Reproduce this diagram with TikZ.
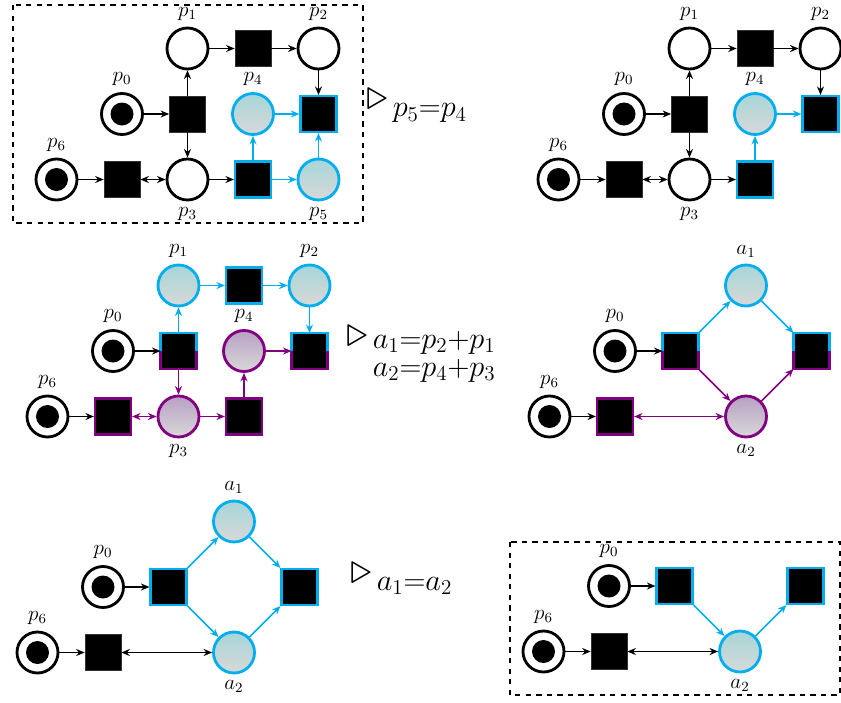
\documentclass[tikz,border=0pt]{standalone}
\usepackage{amsmath}
\usepackage{amssymb}
\usepackage{tikz}
\usetikzlibrary{arrows.meta, positioning}
\definecolor{netcyan}{RGB}{0,174,239}
\definecolor{netpurple}{RGB}{128,0,128}
\definecolor{cyantop}{RGB}{166,214,216}
\definecolor{purpletop}{RGB}{184,160,196}
\definecolor{shadebottom}{RGB}{216,216,216}
\newcommand*{\rulemark}{\mbox{\fontsize{29}{32}\selectfont$\triangleright$}}
\tikzstyle{place} = [draw, circle, line width=1.6pt, minimum size=8.2mm, inner sep=0pt, fill=white]
\tikzstyle{token} = [circle, fill=black, minimum size=4.6mm, inner sep=0pt]
\tikzstyle{marked} = [place, label={[token]center:{}}]
\tikzstyle{cplace} = [place, draw=netcyan, top color=cyantop, bottom color=shadebottom]
\tikzstyle{pplace} = [place, draw=netpurple, top color=purpletop, bottom color=shadebottom]
\tikzstyle{trans} = [rectangle, minimum size=7.2mm, inner sep=0pt, fill=black, draw=black!80, thin]
\tikzstyle{ctrans} = [trans, draw=netcyan, line width=1.2pt]
\tikzstyle{ptrans} = [trans, draw=netpurple, line width=1.2pt]
\tikzstyle{strans} = [trans, draw=none, outer sep=0pt]
\tikzstyle{flow} = [-{Stealth[length=1.7mm, width=1.4mm]}, line width=0.9pt]
\tikzstyle{biflow} = [{Stealth[length=1.7mm, width=1.4mm]}-{Stealth[length=1.7mm, width=1.4mm]}, line width=0.9pt]
\tikzstyle{panelframe} = [dashed, line width=0.8pt]
\tikzstyle{reduction} = [anchor=west, font=\fontsize{23}{27}\selectfont, inner sep=0pt]
\newcommand*{\splitborder}[1]{%
    \draw [netcyan, line width=1.2pt] (#1.west) -- (#1.north west) -- (#1.north east) -- (#1.east);
    \draw [netpurple, line width=1.2pt] (#1.east) -- (#1.south east) -- (#1.south west) -- (#1.west);}

\begin{document}
\begin{tikzpicture}[x=0.2mm, y=-0.2mm, node distance=1.31cm, on grid,
        every label/.append style={font=\large}]
    \useasboundingbox (0,0) rectangle (841,702);

    % Top left: the net before the rule.
    \node (Ap0) [marked, label=above:$p_0$] at (122,114) {};
    \node (At0) [trans, right=of Ap0] {};
    \node (Ap1) [place, above=of At0, label=above:$p_1$] {};
    \node (At1) [trans, right=of Ap1] {};
    \node (Ap2) [place, right=of At1, label=above:$p_2$] {};
    \node (Ap4) [cplace, right=of At0, label=above:$p_4$] {};
    \node (At2) [ctrans, right=of Ap4] {};
    \node (At6) [trans, below=of Ap0] {};
    \node (Ap6) [marked, left=of At6, label=above:$p_6$] {};
    \node (Ap3) [place, right=of At6, label=below:$p_3$] {};
    \node (At3) [ctrans, right=of Ap3] {};
    \node (Ap5) [cplace, right=of At3, label=below:$p_5$] {};

    \foreach \a/\b in {Ap0/At0, At0/Ap1, At0/Ap3, Ap1/At1, At1/Ap2, Ap2/At2, Ap6/At6, Ap3/At3} {
        \draw [flow] (\a) -- (\b);
    }
    \foreach \a/\b in {Ap4/At2, At3/Ap4, At3/Ap5, Ap5/At2} {
        \draw [flow, netcyan] (\a) -- (\b);
    }
    \draw [biflow] (At6) -- (Ap3);

    \draw [panelframe] (13,5) rectangle (363,223);
    \node (Arule) [reduction] at (366,106) {$\rulemark_{\,p_5=p_4}$};

    % Top right: p5 removed.
    \node (Bp0) [marked, label=above:$p_0$] at (624,114) {};
    \node (Bt0) [trans, right=of Bp0] {};
    \node (Bp1) [place, above=of Bt0, label=above:$p_1$] {};
    \node (Bt1) [trans, right=of Bp1] {};
    \node (Bp2) [place, right=of Bt1, label=above:$p_2$] {};
    \node (Bp4) [cplace, right=of Bt0, label=above:$p_4$] {};
    \node (Bt2) [ctrans, right=of Bp4] {};
    \node (Bt6) [trans, below=of Bp0] {};
    \node (Bp6) [marked, left=of Bt6, label=above:$p_6$] {};
    \node (Bp3) [place, right=of Bt6, label=below:$p_3$] {};
    \node (Bt3) [ctrans, right=of Bp3] {};

    \foreach \a/\b in {Bp0/Bt0, Bt0/Bp1, Bt0/Bp3, Bp1/Bt1, Bt1/Bp2, Bp2/Bt2, Bp6/Bt6, Bp3/Bt3} {
        \draw [flow] (\a) -- (\b);
    }
    \foreach \a/\b in {Bp4/Bt2, Bt3/Bp4} {
        \draw [flow, netcyan] (\a) -- (\b);
    }
    \draw [biflow] (Bt6) -- (Bp3);

    % Middle left: two chains.
    \node (Cp0) [marked, label=above:$p_0$] at (113,351) {};
    \node (Ct0) [strans, right=of Cp0] {};
    \node (Cp1) [cplace, above=of Ct0, label=above:$p_1$] {};
    \node (Ct1) [ctrans, right=of Cp1] {};
    \node (Cp2) [cplace, right=of Ct1, label=above:$p_2$] {};
    \node (Cp4) [pplace, right=of Ct0, label=above:$p_4$] {};
    \node (Ct2) [strans, right=of Cp4] {};
    \node (Ct6) [ptrans, below=of Cp0] {};
    \node (Cp6) [marked, left=of Ct6, label=above:$p_6$] {};
    \node (Cp3) [pplace, right=of Ct6, label=below:$p_3$] {};
    \node (Ct3) [ptrans, right=of Cp3] {};
    \splitborder{Ct0}
    \splitborder{Ct2}

    \foreach \a/\b in {Cp0/Ct0, Cp6/Ct6} {
        \draw [flow] (\a) -- (\b);
    }
    \foreach \a/\b in {Ct0/Cp1, Cp1/Ct1, Ct1/Cp2, Cp2/Ct2} {
        \draw [flow, netcyan] (\a) -- (\b);
    }
    \foreach \a/\b in {Ct0/Cp3, Cp3/Ct3, Ct3/Cp4, Cp4/Ct2} {
        \draw [flow, netpurple] (\a) -- (\b);
    }
    \draw [biflow, netpurple] (Ct6) -- (Cp3);

    \node (Crule) [reduction] at (346,354) {$\rulemark_{\substack{\,a_1=p_2+p_1\\[1pt]\,a_2=p_4+p_3}}$};

    % Middle right: chains merged.
    \node (Dp0) [marked, label=above:$p_0$] at (615,351) {};
    \node (Dt0) [strans, right=of Dp0] {};
    \node (Da1) [cplace, above right=1.31cm and 1.31cm of Dt0, label=above:$a_1$] {};
    \node (Da2) [pplace, below right=1.31cm and 1.31cm of Dt0, label=below:$a_2$] {};
    \node (Dt2) [strans, below right=1.31cm and 1.31cm of Da1] {};
    \node (Dt6) [ptrans, below=of Dp0] {};
    \node (Dp6) [marked, left=of Dt6, label=above:$p_6$] {};
    \splitborder{Dt0}
    \splitborder{Dt2}

    \foreach \a/\b in {Dp0/Dt0, Dp6/Dt6} {
        \draw [flow] (\a) -- (\b);
    }
    \foreach \a/\b in {Dt0/Da1, Da1/Dt2} {
        \draw [flow, netcyan] (\a) -- (\b);
    }
    \foreach \a/\b in {Dt0/Da2, Da2/Dt2} {
        \draw [flow, netpurple] (\a) -- (\b);
    }
    \draw [biflow, netpurple] (Dt6) -- (Da2);

    % Bottom left: parallel places.
    \node (Ep0) [marked, label=above:$p_0$] at (103,587) {};
    \node (Et0) [ctrans, right=of Ep0] {};
    \node (Ea1) [cplace, above right=1.31cm and 1.31cm of Et0, label=above:$a_1$] {};
    \node (Ea2) [cplace, below right=1.31cm and 1.31cm of Et0, label=below:$a_2$] {};
    \node (Et2) [ctrans, below right=1.31cm and 1.31cm of Ea1] {};
    \node (Et6) [trans, below=of Ep0] {};
    \node (Ep6) [marked, left=of Et6, label=above:$p_6$] {};

    \foreach \a/\b in {Ep0/Et0, Ep6/Et6} {
        \draw [flow] (\a) -- (\b);
    }
    \foreach \a/\b in {Et0/Ea1, Ea1/Et2, Et0/Ea2, Ea2/Et2} {
        \draw [flow, netcyan] (\a) -- (\b);
    }
    \draw [biflow] (Et6) -- (Ea2);

    \node (Erule) [reduction] at (350,579) {$\rulemark_{\,a_1=a_2}$};

    % Bottom right: a1 removed.
    \node (Fp0) [marked, label=above:$p_0$] at (609,586) {};
    \node (Ft0) [ctrans, right=of Fp0] {};
    \node (Fa2) [cplace, below right=1.31cm and 1.31cm of Ft0, label=below:$a_2$] {};
    \node (Ft2) [ctrans, above right=1.31cm and 1.31cm of Fa2] {};
    \node (Ft6) [trans, below=of Fp0] {};
    \node (Fp6) [marked, left=of Ft6, label=above:$p_6$] {};

    \foreach \a/\b in {Fp0/Ft0, Fp6/Ft6} {
        \draw [flow] (\a) -- (\b);
    }
    \foreach \a/\b in {Ft0/Fa2, Fa2/Ft2} {
        \draw [flow, netcyan] (\a) -- (\b);
    }
    \draw [biflow] (Ft6) -- (Fa2);

    \draw [panelframe] (510,542) rectangle (840,695);
\end{tikzpicture}
\end{document}
